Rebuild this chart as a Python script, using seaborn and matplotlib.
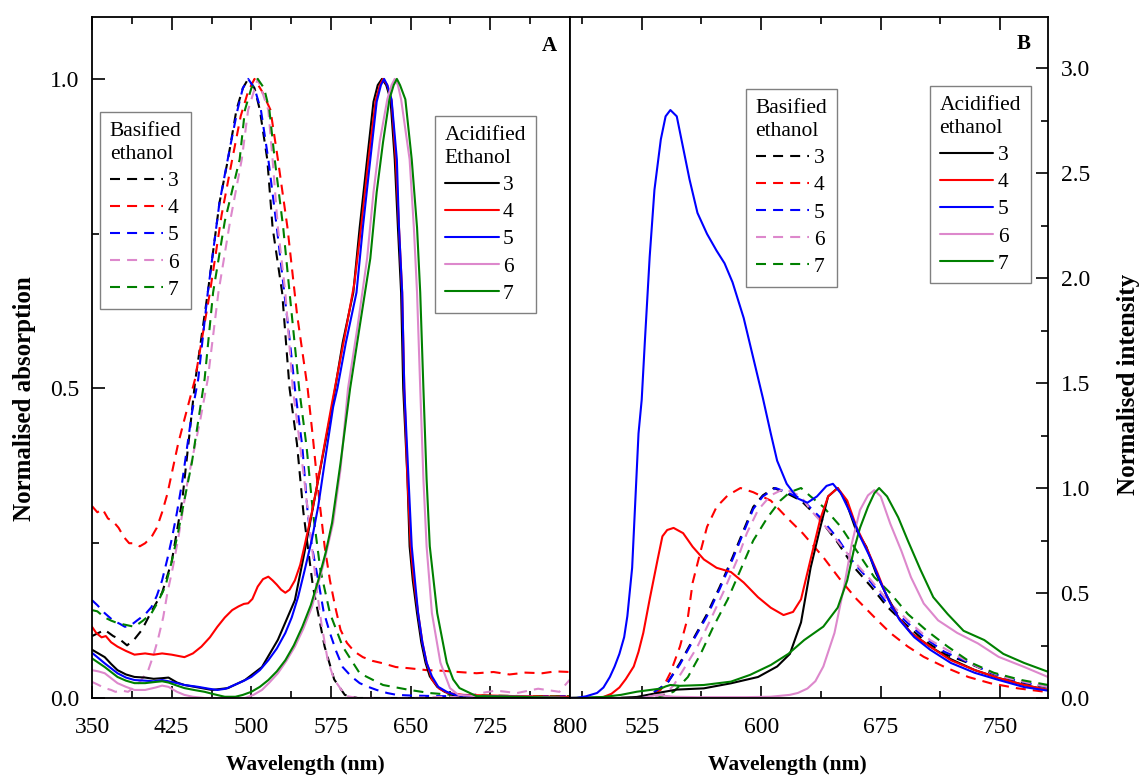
import numpy as np
import pandas as pd
import matplotlib
matplotlib.use("Agg")
import matplotlib.pyplot as plt
from matplotlib.lines import Line2D
from matplotlib.ticker import MultipleLocator, FormatStrFormatter
import seaborn as sns

# ---- panel A : absorption, basified ethanol (dashed) ----
a_b3_nm = [350, 356, 362, 370, 376, 383, 390, 397, 406, 416, 425, 435, 442, 447, 459, 470, 478, 486, 492, 497, 503, 508, 515, 520, 529, 536, 543, 549, 558, 569, 578, 588, 600, 650, 700, 750, 800]
a_b3 = [0.10, 0.105, 0.11, 0.10, 0.095, 0.085, 0.095, 0.11, 0.14, 0.17, 0.22, 0.32, 0.43, 0.51, 0.655, 0.80, 0.87, 0.95, 0.985, 1.0, 0.985, 0.95, 0.87, 0.76, 0.655, 0.50, 0.41, 0.30, 0.18, 0.083, 0.03, 0.005, 0.0, 0.0, 0.0, 0.0, 0.0]

a_b4_nm = [350, 355, 360, 365, 370, 375, 380, 385, 390, 395, 400, 406, 411, 416, 421, 426, 431, 437, 447, 461, 472, 482, 490, 497, 503, 510, 518, 525, 534, 543, 553, 558, 562, 566, 569, 574, 579, 584, 590, 597, 605, 614, 624, 636, 649, 665, 680, 695, 712, 728, 743, 758, 774, 786, 800]
a_b4 = [0.31, 0.30, 0.305, 0.29, 0.285, 0.275, 0.26, 0.25, 0.25, 0.245, 0.25, 0.26, 0.275, 0.30, 0.33, 0.37, 0.41, 0.45, 0.515, 0.655, 0.78, 0.87, 0.94, 0.98, 1.0, 0.98, 0.95, 0.87, 0.76, 0.62, 0.50, 0.42, 0.35, 0.29, 0.245, 0.19, 0.147, 0.11, 0.089, 0.075, 0.066, 0.06, 0.056, 0.05, 0.048, 0.045, 0.044, 0.042, 0.04, 0.042, 0.038, 0.041, 0.04, 0.043, 0.042]

a_b5_nm = [350, 355, 362, 370, 376, 381, 387, 393, 400, 406, 411, 416, 421, 425, 430, 435, 444, 450, 459, 470, 480, 487, 492, 497, 503, 509, 516, 524, 531, 536, 541, 548, 553, 557, 563, 568, 574, 580, 586, 594, 602, 610, 618, 628, 637, 650, 675, 700, 750, 800]
a_b5 = [0.158, 0.15, 0.137, 0.125, 0.12, 0.115, 0.118, 0.126, 0.135, 0.147, 0.165, 0.19, 0.225, 0.256, 0.30, 0.35, 0.46, 0.515, 0.655, 0.80, 0.89, 0.95, 0.985, 1.0, 0.985, 0.95, 0.87, 0.76, 0.655, 0.58, 0.50, 0.406, 0.30, 0.245, 0.19, 0.14, 0.105, 0.075, 0.05, 0.035, 0.024, 0.018, 0.013, 0.008, 0.005, 0.004, 0.003, 0.003, 0.003, 0.003]

a_b6_nm = [350, 355, 362, 368, 372, 378, 384, 390, 396, 403, 408, 412, 417, 421, 426, 431, 440, 452, 459, 469, 480, 491, 497, 506, 516, 520, 525, 532, 539, 545, 550, 557, 562, 566, 572, 578, 584, 590, 600, 650, 700, 730, 750, 770, 790, 800]
a_b6 = [0.026, 0.022, 0.016, 0.013, 0.01, 0.012, 0.01, 0.018, 0.028, 0.045, 0.07, 0.094, 0.13, 0.17, 0.21, 0.256, 0.35, 0.45, 0.515, 0.655, 0.77, 0.87, 0.95, 1.0, 0.95, 0.87, 0.76, 0.655, 0.50, 0.42, 0.35, 0.245, 0.17, 0.12, 0.06, 0.03, 0.015, 0.003, 0.0, 0.0, 0.003, 0.012, 0.008, 0.015, 0.01, 0.03]

a_b7_nm = [350, 355, 362, 368, 374, 382, 390, 398, 406, 412, 419, 425, 431, 437, 444, 456, 464, 475, 489, 494, 500, 506, 512, 517, 522, 530, 536, 545, 552, 558, 565, 574, 586, 602, 624, 649, 668, 690, 720, 760, 800]
a_b7 = [0.142, 0.14, 0.13, 0.125, 0.121, 0.118, 0.115, 0.125, 0.137, 0.155, 0.18, 0.22, 0.267, 0.32, 0.38, 0.515, 0.655, 0.77, 0.87, 0.95, 0.985, 1.0, 0.985, 0.95, 0.87, 0.76, 0.655, 0.50, 0.406, 0.30, 0.207, 0.137, 0.083, 0.04, 0.021, 0.013, 0.008, 0.005, 0.004, 0.003, 0.003]

# ---- panel A : absorption, acidified ethanol (solid) ----
a_a3_nm = [350, 356, 362, 368, 374, 382, 390, 400, 408, 416, 422, 430, 437, 450, 463, 478, 494, 510, 525, 541, 550, 563, 576, 586, 596, 602, 609, 615, 619, 623, 627, 631, 635, 638, 641, 643, 647, 649, 652, 656, 660, 664, 668, 675, 682, 690, 710, 750, 800]
a_a3 = [0.078, 0.072, 0.066, 0.055, 0.045, 0.038, 0.034, 0.033, 0.031, 0.032, 0.033, 0.025, 0.021, 0.017, 0.013, 0.016, 0.029, 0.05, 0.094, 0.158, 0.235, 0.353, 0.47, 0.574, 0.655, 0.76, 0.87, 0.963, 0.99, 1.0, 0.99, 0.967, 0.87, 0.76, 0.655, 0.50, 0.353, 0.245, 0.19, 0.137, 0.09, 0.057, 0.035, 0.018, 0.01, 0.005, 0.003, 0.002, 0.0]

a_a4_nm = [350, 354, 359, 363, 368, 374, 382, 390, 400, 408, 416, 425, 437, 445, 453, 461, 468, 475, 482, 488, 493, 497, 501, 506, 511, 516, 520, 524, 528, 532, 536, 541, 546, 550, 557, 563, 570, 576, 588, 597, 604, 611, 617, 621, 624, 628, 632, 636, 639, 642, 644, 647, 650, 653, 657, 661, 665, 670, 677, 685, 700, 750, 800]
a_a4 = [0.115, 0.105, 0.098, 0.1, 0.09, 0.083, 0.076, 0.07, 0.072, 0.07, 0.072, 0.07, 0.066, 0.072, 0.083, 0.098, 0.115, 0.13, 0.142, 0.148, 0.152, 0.153, 0.16, 0.18, 0.192, 0.196, 0.19, 0.183, 0.175, 0.17, 0.175, 0.19, 0.215, 0.245, 0.30, 0.353, 0.42, 0.477, 0.585, 0.67, 0.77, 0.88, 0.965, 0.99, 1.0, 0.99, 0.965, 0.87, 0.76, 0.655, 0.50, 0.353, 0.245, 0.19, 0.137, 0.09, 0.057, 0.03, 0.015, 0.008, 0.005, 0.003, 0.002]

a_a5_nm = [350, 355, 362, 368, 374, 382, 390, 400, 408, 416, 422, 430, 437, 450, 460, 468, 476, 484, 492, 500, 508, 516, 524, 532, 538, 544, 550, 557, 563, 569, 577, 581, 589, 599, 605, 612, 618, 622, 625, 628, 632, 637, 639, 642, 644, 648, 651, 654, 657, 661, 665, 670, 676, 684, 692, 710, 750, 800]
a_a5 = [0.073, 0.066, 0.056, 0.048, 0.04, 0.033, 0.029, 0.028, 0.027, 0.029, 0.027, 0.024, 0.021, 0.018, 0.015, 0.013, 0.015, 0.021, 0.027, 0.034, 0.045, 0.061, 0.08, 0.105, 0.13, 0.163, 0.205, 0.256, 0.31, 0.38, 0.47, 0.50, 0.574, 0.655, 0.76, 0.87, 0.963, 0.99, 1.0, 0.99, 0.967, 0.87, 0.76, 0.655, 0.50, 0.353, 0.245, 0.19, 0.137, 0.09, 0.057, 0.035, 0.018, 0.01, 0.005, 0.003, 0.002, 0.0]

a_a6_nm = [350, 356, 362, 368, 374, 382, 390, 400, 410, 416, 422, 430, 437, 445, 456, 470, 485, 494, 502, 510, 517, 525, 533, 541, 549, 557, 563, 569, 577, 584, 591, 600, 609, 615, 621, 628, 632, 635, 638, 641, 649, 653, 656, 659, 662, 665, 670, 678, 687, 695, 720, 760, 800]
a_a6 = [0.045, 0.043, 0.04, 0.032, 0.024, 0.018, 0.013, 0.013, 0.017, 0.02, 0.018, 0.01, 0.005, 0.002, 0.0, 0.0, 0.0, 0.0, 0.005, 0.013, 0.025, 0.04, 0.06, 0.083, 0.112, 0.147, 0.185, 0.223, 0.283, 0.37, 0.50, 0.60, 0.71, 0.817, 0.90, 0.967, 0.99, 1.0, 0.99, 0.967, 0.87, 0.76, 0.655, 0.50, 0.353, 0.245, 0.137, 0.057, 0.016, 0.005, 0.002, 0.002, 0.0]

a_a7_nm = [350, 356, 362, 368, 374, 382, 390, 400, 410, 416, 422, 430, 437, 446, 456, 465, 475, 485, 492, 500, 508, 516, 524, 532, 540, 548, 556, 563, 570, 576, 584, 593, 602, 612, 618, 624, 630, 634, 637, 640, 645, 651, 656, 659, 662, 665, 668, 675, 684, 690, 696, 712, 750, 800]
a_a7 = [0.064, 0.057, 0.05, 0.042, 0.034, 0.028, 0.024, 0.024, 0.026, 0.027, 0.025, 0.02, 0.016, 0.013, 0.01, 0.006, 0.002, 0.002, 0.005, 0.01, 0.018, 0.029, 0.043, 0.061, 0.085, 0.115, 0.15, 0.19, 0.235, 0.283, 0.38, 0.50, 0.60, 0.71, 0.817, 0.898, 0.967, 0.99, 1.0, 0.99, 0.967, 0.87, 0.76, 0.655, 0.50, 0.353, 0.245, 0.137, 0.057, 0.03, 0.016, 0.003, 0.002, 0.0]

# ---- panel B : emission, basified ethanol (dashed) ----
b_b3_nm = [480, 525, 532, 541, 549, 557, 566, 574, 582, 589, 595, 601, 608, 616, 625, 637, 648, 658, 669, 679, 690, 702, 715, 730, 744, 761, 780]
b_b3 = [0.0, 0.0, 0.024, 0.07, 0.167, 0.276, 0.40, 0.53, 0.67, 0.80, 0.91, 0.965, 1.0, 0.975, 0.94, 0.85, 0.74, 0.625, 0.53, 0.435, 0.355, 0.276, 0.21, 0.167, 0.12, 0.078, 0.05]

b_b4_nm = [480, 525, 532, 537, 540, 543, 549, 554, 557, 562, 566, 572, 579, 587, 595, 606, 616, 626, 639, 650, 660, 671, 681, 692, 702, 715, 730, 744, 761, 780]
b_b4 = [0.0, 0.0, 0.015, 0.04, 0.075, 0.12, 0.245, 0.385, 0.55, 0.70, 0.815, 0.91, 0.965, 1.0, 0.98, 0.94, 0.86, 0.785, 0.67, 0.56, 0.47, 0.385, 0.31, 0.245, 0.196, 0.148, 0.10, 0.07, 0.046, 0.028]

b_b5_nm = [480, 525, 532, 541, 549, 557, 566, 574, 582, 589, 595, 601, 609, 616, 625, 637, 648, 658, 669, 679, 690, 702, 715, 730, 744, 761, 780]
b_b5 = [0.0, 0.0, 0.024, 0.07, 0.16, 0.27, 0.39, 0.52, 0.66, 0.79, 0.90, 0.96, 1.0, 0.98, 0.95, 0.86, 0.76, 0.645, 0.55, 0.45, 0.37, 0.29, 0.22, 0.17, 0.12, 0.08, 0.052]

b_b6_nm = [480, 530, 540, 545, 551, 560, 568, 576, 585, 591, 598, 606, 614, 618, 625, 631, 644, 656, 669, 681, 694, 706, 721, 736, 752, 769, 780]
b_b6 = [0.0, 0.0, 0.02, 0.06, 0.133, 0.245, 0.37, 0.50, 0.66, 0.785, 0.895, 0.965, 0.995, 0.985, 0.96, 0.895, 0.785, 0.67, 0.56, 0.45, 0.355, 0.276, 0.21, 0.148, 0.10, 0.07, 0.052]

b_b7_nm = [480, 535, 545, 549, 554, 562, 570, 579, 587, 595, 604, 612, 618, 625, 631, 639, 650, 660, 671, 681, 692, 704, 717, 732, 746, 763, 780]
b_b7 = [0.0, 0.0, 0.03, 0.06, 0.10, 0.21, 0.34, 0.47, 0.61, 0.75, 0.86, 0.94, 0.98, 1.0, 0.96, 0.91, 0.815, 0.70, 0.575, 0.50, 0.40, 0.32, 0.245, 0.167, 0.12, 0.086, 0.062]

# ---- panel B : emission, acidified ethanol (solid) ----
b_a3_nm = [480, 510, 522, 535, 547, 564, 581, 598, 610, 618, 625, 628, 631, 637, 642, 648, 653, 659, 666, 672, 678, 686, 694, 706, 719, 734, 749, 765, 780]
b_a3 = [0.0, 0.0, 0.005, 0.024, 0.04, 0.046, 0.07, 0.1, 0.15, 0.21, 0.36, 0.49, 0.62, 0.81, 0.96, 1.0, 0.94, 0.81, 0.72, 0.595, 0.50, 0.385, 0.31, 0.245, 0.185, 0.133, 0.095, 0.062, 0.038]

b_a4_nm = [480, 495, 501, 506, 511, 515, 520, 523, 526, 530, 535, 538, 541, 545, 551, 557, 564, 572, 581, 589, 598, 606, 614, 620, 625, 631, 637, 642, 648, 654, 660, 667, 673, 679, 686, 694, 706, 719, 734, 749, 765, 780]
b_a4 = [0.0, 0.0, 0.005, 0.02, 0.05, 0.09, 0.15, 0.22, 0.31, 0.47, 0.66, 0.77, 0.80, 0.81, 0.785, 0.72, 0.66, 0.62, 0.60, 0.55, 0.48, 0.43, 0.395, 0.41, 0.47, 0.66, 0.85, 0.96, 1.0, 0.94, 0.81, 0.70, 0.595, 0.48, 0.385, 0.31, 0.245, 0.18, 0.133, 0.095, 0.062, 0.038]

b_a5_nm = [480, 484, 490, 497, 501, 505, 508, 511, 514, 516, 519, 521, 523, 525, 527, 530, 533, 537, 540, 543, 547, 551, 555, 560, 566, 572, 577, 582, 589, 595, 601, 606, 610, 616, 623, 629, 635, 641, 645, 650, 656, 662, 669, 675, 681, 687, 696, 706, 719, 734, 749, 765, 780]
b_a5 = [0.0, 0.0, 0.008, 0.024, 0.05, 0.1, 0.15, 0.21, 0.29, 0.39, 0.62, 0.94, 1.26, 1.42, 1.70, 2.10, 2.42, 2.66, 2.77, 2.80, 2.77, 2.62, 2.47, 2.31, 2.21, 2.13, 2.07, 1.98, 1.81, 1.62, 1.43, 1.26, 1.13, 1.02, 0.95, 0.93, 0.96, 1.01, 1.02, 0.975, 0.88, 0.77, 0.66, 0.55, 0.45, 0.37, 0.29, 0.23, 0.167, 0.12, 0.086, 0.052, 0.035]

b_a6_nm = [480, 525, 530, 535, 540, 545, 560, 590, 606, 618, 623, 629, 634, 639, 646, 652, 657, 662, 667, 671, 675, 681, 688, 694, 702, 711, 723, 736, 749, 765, 780]
b_a6 = [0.0, 0.0, 0.008, 0.015, 0.01, 0.006, 0.004, 0.004, 0.006, 0.015, 0.024, 0.045, 0.08, 0.15, 0.31, 0.53, 0.74, 0.895, 0.965, 0.99, 0.96, 0.83, 0.70, 0.575, 0.45, 0.37, 0.31, 0.26, 0.196, 0.148, 0.10]

b_a7_nm = [480, 501, 512, 522, 530, 537, 540, 543, 549, 564, 581, 593, 606, 617, 627, 639, 648, 654, 658, 662, 667, 671, 674, 679, 686, 692, 700, 708, 717, 727, 740, 752, 765, 780]
b_a7 = [0.0, 0.005, 0.015, 0.03, 0.038, 0.045, 0.055, 0.062, 0.058, 0.062, 0.078, 0.11, 0.157, 0.21, 0.276, 0.34, 0.43, 0.56, 0.70, 0.81, 0.91, 0.975, 1.0, 0.96, 0.86, 0.75, 0.61, 0.48, 0.40, 0.32, 0.276, 0.21, 0.167, 0.125]

labels = ["3", "4", "5", "6", "7"]
colors = {"3": "#000000", "4": "#ff0000", "5": "#0000ff", "6": "#dd88cc", "7": "#008000"}
dash = (0, (4.8, 3.4))

sns.set_theme(style="ticks", rc={"axes.edgecolor": "black", "axes.linewidth": 1.3,
                                 "xtick.color": "black", "ytick.color": "black",
                                 "text.color": "black", "axes.labelcolor": "black"})
plt.rcParams["font.family"] = ["Liberation Serif", "DejaVu Serif"]

fig = plt.figure(figsize=(11.47, 7.76), dpi=100)
axA = fig.add_axes([92 / 1147, 78 / 776, 478 / 1147, 681 / 776])
axB = fig.add_axes([570 / 1147, 78 / 776, 478 / 1147, 681 / 776])

panelA = [(a_b3_nm, a_b3, "3", dash), (a_b4_nm, a_b4, "4", dash), (a_b5_nm, a_b5, "5", dash),
          (a_b6_nm, a_b6, "6", dash), (a_b7_nm, a_b7, "7", dash),
          (a_a3_nm, a_a3, "3", "-"), (a_a4_nm, a_a4, "4", "-"), (a_a5_nm, a_a5, "5", "-"),
          (a_a6_nm, a_a6, "6", "-"), (a_a7_nm, a_a7, "7", "-")]
panelB = [(b_b3_nm, b_b3, "3", dash), (b_b4_nm, b_b4, "4", dash), (b_b5_nm, b_b5, "5", dash),
          (b_b6_nm, b_b6, "6", dash), (b_b7_nm, b_b7, "7", dash),
          (b_a3_nm, b_a3, "3", "-"), (b_a4_nm, b_a4, "4", "-"), (b_a6_nm, b_a6, "6", "-"),
          (b_a7_nm, b_a7, "7", "-"), (b_a5_nm, b_a5, "5", "-")]

for ax, curves in ((axA, panelA), (axB, panelB)):
    for nm, val, key, ls in curves:
        sns.lineplot(x=nm, y=val, ax=ax, color=colors[key], linewidth=1.5,
                     linestyle=ls, estimator=None, sort=False)

axA.set_xlim(350, 800)
axA.set_ylim(0, 1.1)
axB.set_xlim(480, 780)
axB.set_ylim(0, 3.243)

axA.xaxis.set_major_locator(MultipleLocator(75, offset=50))
axA.xaxis.set_minor_locator(MultipleLocator(37.5, offset=12.5))
axB.xaxis.set_major_locator(MultipleLocator(75))
axB.xaxis.set_minor_locator(MultipleLocator(37.5))
for ax in (axA, axB):
    ax.yaxis.set_major_locator(MultipleLocator(0.5))
    ax.yaxis.set_minor_locator(MultipleLocator(0.25))
    ax.yaxis.set_major_formatter(FormatStrFormatter("%.1f"))
    ax.tick_params(which="both", direction="in", top=True, bottom=True, width=1.2,
                   labelsize=17)
    ax.tick_params(axis="x", which="both", pad=14)
    ax.tick_params(axis="y", which="both", pad=9)
    ax.tick_params(which="major", length=9)
    ax.tick_params(which="minor", length=5)
    for sp in ax.spines.values():
        sp.set_linewidth(1.3)
        sp.set_color("black")
axA.tick_params(which="both", left=True, right=False)
axB.tick_params(which="both", left=False, right=True, labelleft=False, labelright=True)

axA.set_xlabel("Wavelength (nm)", fontsize=15.5, fontweight="bold")
axB.set_xlabel("Wavelength (nm)", fontsize=15.5, fontweight="bold")
axA.xaxis.set_label_coords(0.446, -0.083)
axB.xaxis.set_label_coords(0.454, -0.083)
axA.set_ylabel("Normalised absorption", fontsize=18, fontweight="bold")
axA.yaxis.set_label_coords(-0.117, 0.44)
axB.yaxis.set_label_position("right")
axB.set_ylabel("Normalised intensity", fontsize=18, fontweight="bold")
axB.yaxis.set_label_coords(1.145, 0.46)

axA.text(0.956, 0.958, "A", transform=axA.transAxes, fontsize=15, fontweight="bold",
         ha="center", va="center")
axB.text(0.950, 0.960, "B", transform=axB.transAxes, fontsize=15, fontweight="bold",
         ha="center", va="center")


def make_legend(ax, title, ls, anchor):
    handles = [Line2D([], [], color=colors[k], linewidth=1.5, linestyle=ls) for k in labels]
    leg = ax.legend(handles, labels, title=title, loc="upper left", bbox_to_anchor=anchor,
                    borderaxespad=0, frameon=True, fancybox=False, edgecolor="#808080",
                    facecolor="white", framealpha=1, fontsize=15.5, title_fontsize=15.5,
                    handlelength=2.5, handletextpad=0.2, labelspacing=0.33, borderpad=0.45,
                    alignment="left")
    leg.get_title().set_linespacing(1.3)
    leg.get_frame().set_linewidth(1.0)
    return leg


legA1 = make_legend(axA, "Basified\nethanol", dash, (0.0167, 0.8605))
axA.add_artist(legA1)
make_legend(axA, "Acidified\nEthanol", "-", (0.7176, 0.8546))
legB1 = make_legend(axB, "Basified\nethanol", dash, (0.368, 0.894))
axB.add_artist(legB1)
make_legend(axB, "Acidified\nethanol", "-", (0.753, 0.8987))

fig.savefig("out.png", dpi=100)
